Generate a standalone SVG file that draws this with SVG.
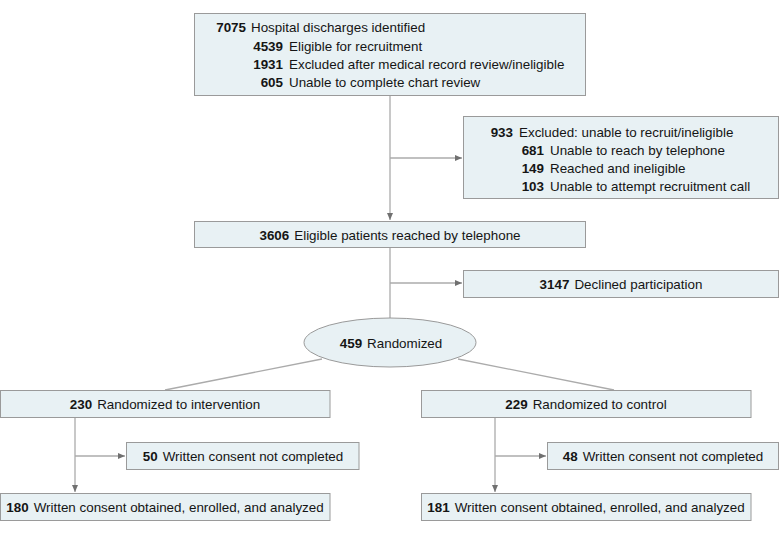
<svg xmlns="http://www.w3.org/2000/svg" width="780" height="535" viewBox="0 0 780 535">
  <defs>
    <style>
      .box { fill: #e8f1f4; stroke: #9a9a9a; stroke-width: 1; }
      .t { font-family: "Liberation Sans", Arial, sans-serif; font-size: 13.4px; fill: #151515; }
      .n { font-weight: bold; }
      .c { text-anchor: middle; }
      .e { text-anchor: end; }
      .conn line { stroke: #ababab; stroke-width: 1.3; fill: none; }
      .arr { marker-end: url(#ah); }
    </style>
    <marker id="ah" viewBox="0 0 7 6" refX="7" refY="3" markerWidth="7" markerHeight="6" markerUnits="userSpaceOnUse" orient="auto">
      <path d="M0,0 L7,3 L0,6 z" fill="#707070"/>
    </marker>
  </defs>
  <rect width="780" height="535" fill="#ffffff"/>

  <g id="connectors" class="conn">
    <line class="arr" x1="390" y1="95" x2="390" y2="220"/>
    <line class="arr" x1="390" y1="158" x2="462" y2="158"/>
    <line x1="390" y1="248" x2="390" y2="318"/>
    <line class="arr" x1="390" y1="283" x2="462" y2="283"/>
    <line x1="322" y1="359" x2="165" y2="390"/>
    <line x1="458" y1="359" x2="614" y2="390"/>
    <line class="arr" x1="75" y1="417" x2="75" y2="492"/>
    <line class="arr" x1="75" y1="456" x2="125" y2="456"/>
    <line class="arr" x1="495" y1="417" x2="495" y2="492"/>
    <line class="arr" x1="495" y1="456" x2="546" y2="456"/>
  </g>

  <g id="n7075">
    <rect class="box" x="194.5" y="13.5" width="391" height="82"/>
    <text class="t n e" x="246" y="32">7075</text>
    <text class="t" x="251" y="32">Hospital discharges identified</text>
    <text class="t n e" x="283" y="50.5">4539</text>
    <text class="t" x="289" y="50.5">Eligible for recruitment</text>
    <text class="t n e" x="283" y="68.5">1931</text>
    <text class="t" x="289" y="68.5">Excluded after medical record review/ineligible</text>
    <text class="t n e" x="283" y="86.5">605</text>
    <text class="t" x="289" y="86.5">Unable to complete chart review</text>
  </g>

  <g id="n933">
    <rect class="box" x="463.5" y="116.5" width="315" height="82"/>
    <text class="t n e" x="513" y="136.5">933</text>
    <text class="t" x="519" y="136.5">Excluded: unable to recruit/ineligible</text>
    <text class="t n e" x="544" y="154.5">681</text>
    <text class="t" x="550" y="154.5">Unable to reach by telephone</text>
    <text class="t n e" x="544" y="172.5">149</text>
    <text class="t" x="550" y="172.5">Reached and ineligible</text>
    <text class="t n e" x="544" y="190.5">103</text>
    <text class="t" x="550" y="190.5">Unable to attempt recruitment call</text>
  </g>

  <g id="n3606">
    <rect class="box" x="194.5" y="221.5" width="391" height="26"/>
    <text class="t c" x="390" y="239.5"><tspan class="n">3606</tspan><tspan dx="5">Eligible patients reached by telephone</tspan></text>
  </g>

  <g id="n3147">
    <rect class="box" x="463.5" y="270.5" width="315" height="27"/>
    <text class="t c" x="621" y="289"><tspan class="n">3147</tspan><tspan dx="5">Declined participation</tspan></text>
  </g>

  <g id="n459">
    <ellipse class="box" cx="390" cy="342.5" rx="86" ry="24.5"/>
    <text class="t c" x="391" y="348"><tspan class="n">459</tspan><tspan dx="5">Randomized</tspan></text>
  </g>

  <g id="n230">
    <rect class="box" x="0.5" y="390.5" width="329.5" height="27"/>
    <text class="t c" x="165" y="409"><tspan class="n">230</tspan><tspan dx="5">Randomized to intervention</tspan></text>
  </g>

  <g id="n229">
    <rect class="box" x="421.5" y="390.5" width="329.5" height="27"/>
    <text class="t c" x="586" y="409"><tspan class="n">229</tspan><tspan dx="5">Randomized to control</tspan></text>
  </g>

  <g id="n50">
    <rect class="box" x="126.5" y="442.5" width="232.5" height="27"/>
    <text class="t c" x="243" y="461"><tspan class="n">50</tspan><tspan dx="5">Written consent not completed</tspan></text>
  </g>

  <g id="n48">
    <rect class="box" x="547.5" y="442.5" width="231" height="27"/>
    <text class="t c" x="663" y="461"><tspan class="n">48</tspan><tspan dx="5">Written consent not completed</tspan></text>
  </g>

  <g id="n180">
    <rect class="box" x="0.5" y="493.5" width="329.5" height="27"/>
    <text class="t c" x="165" y="512"><tspan class="n">180</tspan><tspan dx="5">Written consent obtained, enrolled, and analyzed</tspan></text>
  </g>

  <g id="n181">
    <rect class="box" x="421.5" y="493.5" width="329.5" height="27"/>
    <text class="t c" x="586" y="512"><tspan class="n">181</tspan><tspan dx="5">Written consent obtained, enrolled, and analyzed</tspan></text>
  </g>
</svg>
